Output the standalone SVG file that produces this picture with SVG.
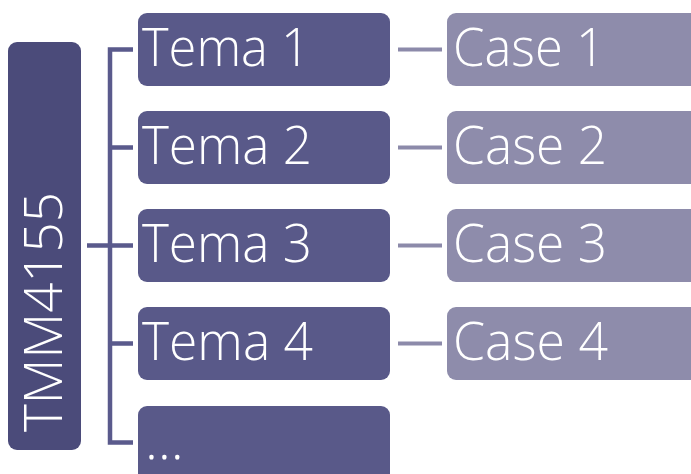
<svg xmlns="http://www.w3.org/2000/svg" width="691" height="474" viewBox="0 0 691 474">
<style>
.t{font-family:"Open Sans","Liberation Sans",sans-serif;font-weight:300;fill:#fff;font-size:54px}
.root{fill:#4b4b7a}
.tema{fill:#595989}
.case{fill:#8e8cab}
.ln{stroke:#5a5a8c;stroke-width:4.5;fill:none}
.lc{stroke:#8c8aaa;stroke-width:4;fill:none}
</style>
<rect width="691" height="474" fill="#fff"/>
<g id="connectors">
<path class="ln" d="M87 245.5H110M110 47.5V444.5M107.75 49.5H133M110 147.5H133M110 245.5H133M110 343.5H133M107.75 442.5H133"/>
<path class="lc" d="M398 49.5H442M398 147.5H442M398 245.5H442M398 343.5H442"/>
</g>
<g id="root">
<rect class="root" x="8" y="42" width="73" height="408" rx="9"/>
<text class="t" transform="translate(62,432) rotate(-90)" textLength="240" lengthAdjust="spacingAndGlyphs">TMM4155</text>
</g>
<g id="tema1"><rect class="tema" x="138" y="13" width="252" height="73" rx="9"/><text class="t" x="142" y="66" textLength="168" lengthAdjust="spacingAndGlyphs">Tema 1</text></g>
<g id="tema2"><rect class="tema" x="138" y="111" width="252" height="73" rx="9"/><text class="t" x="142" y="164" textLength="170" lengthAdjust="spacingAndGlyphs">Tema 2</text></g>
<g id="tema3"><rect class="tema" x="138" y="209" width="252" height="73" rx="9"/><text class="t" x="142" y="262" textLength="170" lengthAdjust="spacingAndGlyphs">Tema 3</text></g>
<g id="tema4"><rect class="tema" x="138" y="307" width="252" height="73" rx="9"/><text class="t" x="142" y="360" textLength="171" lengthAdjust="spacingAndGlyphs">Tema 4</text></g>
<g id="tema5"><rect class="tema" x="138" y="406" width="252" height="80" rx="9"/><text class="t" x="145" y="459">…</text></g>
<g id="case1"><rect class="case" x="447" y="13" width="260" height="73" rx="9"/><text class="t" x="453" y="66" textLength="152" lengthAdjust="spacingAndGlyphs">Case 1</text></g>
<g id="case2"><rect class="case" x="447" y="111" width="260" height="73" rx="9"/><text class="t" x="453" y="164" textLength="154" lengthAdjust="spacingAndGlyphs">Case 2</text></g>
<g id="case3"><rect class="case" x="447" y="209" width="260" height="73" rx="9"/><text class="t" x="453" y="262" textLength="154" lengthAdjust="spacingAndGlyphs">Case 3</text></g>
<g id="case4"><rect class="case" x="447" y="307" width="260" height="73" rx="9"/><text class="t" x="453" y="360" textLength="155" lengthAdjust="spacingAndGlyphs">Case 4</text></g>
</svg>
